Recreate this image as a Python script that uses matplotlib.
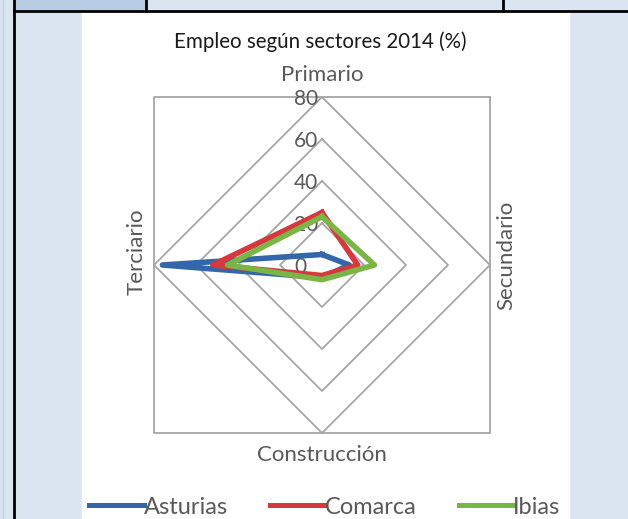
import matplotlib
matplotlib.use("Agg")
import matplotlib.pyplot as plt
from matplotlib.patches import Rectangle
from matplotlib.lines import Line2D
import numpy as np

plt.rcParams['font.family'] = ['Lato', 'DejaVu Sans']

# data (% of employment, 2014)
categories = ['Primario', 'Secundario', 'Construcción', 'Terciario']
series_names = ['Asturias', 'Comarca', 'Ibias']
asturias = [5, 13, 6, 76]
comarca = [25, 17, 5, 52]
ibias = [23, 25, 7, 45]
ticks = [0, 20, 40, 60, 80]

colors = ['#3467a9', '#d5383d', '#79b646']
grid_col = '#a6a6a6'
txt_col = '#595959'

W, H = 628, 519
fig = plt.figure(figsize=(W / 100, H / 100), dpi=100)
fig.patch.set_facecolor('#dbe5f1')

def fx(px):
    return px / W

def fy(py):
    return 1 - py / H

# document table bits around the chart
fig.patches.append(Rectangle((fx(14), fy(11)), fx(146 - 14), 11 / H,
                             transform=fig.transFigure, color='#b8cce4', zorder=-1))
fig.patches.append(Rectangle((fx(82), 0), fx(569 - 82), fy(12),
                             transform=fig.transFigure, color='white', zorder=-1))
for xs, ys in [([fx(14), 1], [fy(11), fy(11)]),
               ([fx(14), fx(14)], [0, 1]),
               ([fx(146), fx(146)], [fy(11), 1]),
               ([fx(503), fx(503)], [fy(11), 1])]:
    fig.lines.append(Line2D(xs, ys, transform=fig.transFigure, color='black', lw=2))
fig.lines.append(Line2D([fx(3), fx(3)], [0, 1], transform=fig.transFigure,
                        color='#c8d6c8', lw=1))

# radar axes: centre at (322, 265) px, 2.1 px per unit
rmax = 80 * np.sqrt(2)
rad_px = rmax * 2.1
cx, cy = 322, 265
ax = fig.add_axes([fx(cx - rad_px), (H - cy - rad_px) / H, 2 * rad_px / W, 2 * rad_px / H],
                  projection='polar')
ax.set_theta_zero_location('N')
ax.set_theta_direction(-1)
ax.set_ylim(0, rmax)
ax.set_xticks([])
ax.set_yticks([])
ax.grid(False)
ax.spines['polar'].set_visible(False)
ax.patch.set_alpha(0)

angles = np.deg2rad([0, 90, 180, 270])
closed = np.append(angles, angles[0])

for lev in ticks[1:]:
    ax.plot(closed, [lev] * 5, color=grid_col, lw=1.3, zorder=1)
corners = np.deg2rad([45, 135, 225, 315, 45])
ax.plot(corners, [rmax] * 5, color=grid_col, lw=1.3, zorder=1, clip_on=False)

for v in ticks:
    ax.annotate(str(v), xy=(0, v), xytext=(-28, -2), textcoords='offset pixels',
                ha='left', va='center', fontsize=15, color=txt_col, zorder=2)

for name, vals, c in zip(series_names, [asturias, comarca, ibias], colors):
    ax.plot(closed, vals + vals[:1], color=c, lw=4, label=name,
            solid_joinstyle='round', zorder=3, clip_on=False)

# category labels
lab_fs = 16
fig.text(fx(322), fy(75), categories[0], ha='center', va='center', fontsize=lab_fs, color=txt_col)
fig.text(fx(506), fy(255), categories[1], ha='center', va='center', fontsize=lab_fs,
         color=txt_col, rotation=90)
fig.text(fx(322), fy(455), categories[2], ha='center', va='center', fontsize=lab_fs, color=txt_col)
fig.text(fx(137), fy(252), categories[3], ha='center', va='center', fontsize=lab_fs,
         color=txt_col, rotation=90)

fig.text(fx(320), fy(42), 'Empleo según sectores 2014 (%)', ha='center', va='center',
         fontsize=14.8, color='#1a1a1a')

leg = fig.legend(loc='center', bbox_to_anchor=(fx(325), fy(507)), ncol=3, frameon=False,
                 fontsize=17, handlelength=2.3, handletextpad=0.0, columnspacing=1.8,
                 labelcolor=txt_col)
for h in leg.get_lines():
    h.set_linewidth(3.6)

fig.savefig('out.png', dpi=100, facecolor=fig.get_facecolor())
